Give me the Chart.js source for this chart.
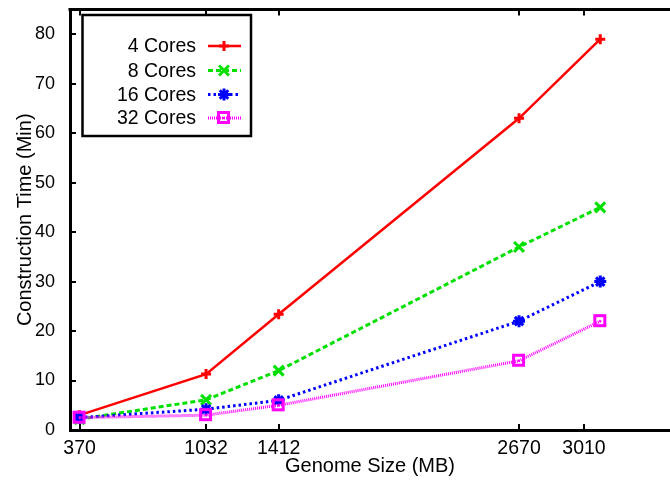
<!DOCTYPE html>
<html><head><meta charset="utf-8">
<script src="https://cdn.jsdelivr.net/npm/chart.js@4.4.1/dist/chart.umd.min.js"></script>
<style>html,body{margin:0;padding:0;background:#fff;overflow:hidden}</style>
</head><body>
<canvas id="c" width="670" height="480" style="display:block;width:670px;height:480px"></canvas>
<script>
// ---- data ----
const genomeSizes = [370, 1032, 1412, 2670, 3095];
const xTickValues = [370, 1032, 1412, 2670, 3010];
const yTickValues = [0, 10, 20, 30, 40, 50, 60, 70, 80];
const seriesNames = ['4 Cores', '8 Cores', '16 Cores', '32 Cores'];
const cores4  = [3.0, 11.3, 23.4, 63, 79];
const cores8  = [2.2, 6.1, 12, 37, 45];
const cores16 = [2.5, 4.2, 6, 22, 30];
const cores32 = [2.5, 3, 5, 14, 22];
const xTitle = 'Genome Size (MB)';
const yTitle = 'Construction Time (Min)';

// ---- styles ----
const FONT = "'Liberation Sans', Arial, Helvetica, sans-serif";
function squareDot(color){
  const c = document.createElement('canvas'); c.width = 16; c.height = 16;
  const g = c.getContext('2d');
  g.strokeStyle = color; g.lineWidth = 3; g.strokeRect(2.5, 2.5, 10, 10);
  g.fillStyle = color; g.fillRect(7, 7, 2, 2);
  return c;
}
const styles = [
  {color:'#ff0000', dash:[], width:2.5, pointStyle:'cross', radius:5, pbw:3},
  {color:'#00e000', dash:[5,3], width:3, pointStyle:'crossRot', radius:7, pbw:3},
  {color:'#0000ff', dash:[2.5,3], width:3, pointStyle:'star', radius:6, pbw:3},
  {color:'#ff00ff', dash:[1,1], width:3, pointStyle:squareDot('#ff00ff'), radius:7, pbw:1}
];
const seriesValues = [cores4, cores8, cores16, cores32];

const datasets = seriesValues.map((vals, i) => ({
  label: seriesNames[i],
  data: genomeSizes.map((x, k) => ({x: x, y: vals[k]})),
  borderColor: styles[i].color,
  backgroundColor: 'rgba(0,0,0,0)',
  borderWidth: styles[i].width,
  borderDash: styles[i].dash,
  pointStyle: styles[i].pointStyle,
  pointRadius: styles[i].radius,
  pointBorderWidth: styles[i].pbw,
  pointBorderColor: styles[i].color,
  pointBackgroundColor: 'rgba(0,0,0,0)',
  tension: 0,
  fill: false,
  order: 3 - i,
  clip: false
}));

const framePlugin = {
  id: 'frame',
  beforeDatasetsDraw(chart){
    const ctx = chart.ctx, a = chart.chartArea, sx = chart.scales.x, sy = chart.scales.y;
    ctx.save();
    ctx.strokeStyle = '#000';
    ctx.lineWidth = 3;
    ctx.beginPath(); ctx.moveTo(a.left - 1.5, a.top); ctx.lineTo(a.right, a.top); ctx.stroke();
    ctx.lineWidth = 2;
    const tl = 6;
    ctx.beginPath();
    xTickValues.forEach(v => {
      const px = Math.round(sx.getPixelForValue(v));
      ctx.moveTo(px, a.bottom); ctx.lineTo(px, a.bottom - tl);
      ctx.moveTo(px, a.top); ctx.lineTo(px, a.top + tl);
    });
    yTickValues.forEach(v => {
      const py = Math.round(sy.getPixelForValue(v));
      ctx.moveTo(a.left, py); ctx.lineTo(a.left + tl, py);
    });
    ctx.stroke();
    ctx.restore();
  },
  afterDraw(chart){
    const ctx = chart.ctx;
    ctx.save();
    // legend box
    ctx.fillStyle = '#fff';
    ctx.fillRect(82.5, 15, 168.5, 121);
    ctx.strokeStyle = '#000'; ctx.lineWidth = 2.5;
    ctx.strokeRect(82.5, 15, 168.5, 121);
    const ys = [46, 70.5, 94.5, 118];
    chart.data.datasets.forEach((ds, i) => {
      const y = ys[i];
      ctx.fillStyle = '#000';
      ctx.font = '19.5px ' + FONT;
      ctx.textAlign = 'right'; ctx.textBaseline = 'middle';
      ctx.fillText(ds.label, 196, y + 1);
      ctx.strokeStyle = ds.borderColor;
      ctx.lineWidth = ds.borderWidth;
      ctx.setLineDash(ds.borderDash);
      ctx.beginPath(); ctx.moveTo(208, y); ctx.lineTo(241, y); ctx.stroke();
      ctx.setLineDash([]);
      ctx.lineWidth = ds.pointBorderWidth;
      Chart.helpers.drawPoint(ctx, {pointStyle: ds.pointStyle, radius: ds.pointRadius, borderWidth: ds.pointBorderWidth, rotation: 0}, 224, y);
    });
    ctx.restore();
  }
};

new Chart(document.getElementById('c'), {
  type: 'line',
  data: { datasets: datasets },
  plugins: [framePlugin],
  options: {
    responsive: false,
    animation: false,
    devicePixelRatio: 1,
    events: [],
    layout: { autoPadding: false, padding: { top: 9.5, right: 0, bottom: 0, left: 0 } },
    plugins: { legend: { display: false }, tooltip: { enabled: false } },
    scales: {
      x: {
        type: 'linear', min: 320, max: 3460,
        afterBuildTicks: s => { s.ticks = xTickValues.map(v => ({value: v})); },
        afterFit: s => { s.height = 50; s.paddingLeft = 0; s.paddingRight = 0; },
        grid: { display: false, drawTicks: false },
        border: { display: true, color: '#000', width: 3 },
        ticks: { autoSkip: false, maxRotation: 0, padding: 7, color: '#000',
                 font: { family: FONT, size: 19.5 }, callback: v => String(v) },
        title: { display: true, text: xTitle, color: '#000', padding: { top: 0, bottom: 2 },
                 font: { family: FONT, size: 20 } }
      },
      y: {
        type: 'linear', min: 0, max: 85,
        afterBuildTicks: s => { s.ticks = yTickValues.map(v => ({value: v})); },
        afterFit: s => { s.width = 70; s.paddingTop = 0; s.paddingBottom = 0; },
        grid: { display: false, drawTicks: false },
        border: { display: true, color: '#000', width: 3 },
        ticks: { padding: 15, color: '#000', font: { family: FONT, size: 18 } },
        title: { display: true, text: yTitle, color: '#000', padding: { top: 13, bottom: 0 },
                 font: { family: FONT, size: 20 } }
      }
    }
  }
});
</script>
</body></html>
